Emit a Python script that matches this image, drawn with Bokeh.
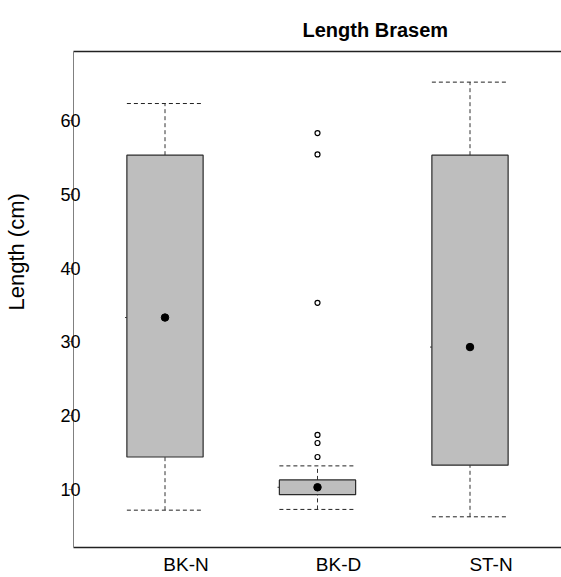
from bokeh.embed import file_html
from bokeh.models import FixedTicker, LinearAxis, Range1d
from bokeh.plotting import figure
from bokeh.resources import INLINE

# Box-and-whisker summary of fish length per group
groups = ["BK-N", "BK-D", "ST-N"]
positions = [1, 2, 3]
whisker_low = [7.2, 7.3, 6.3]
q1 = [14.4, 9.3, 13.3]
median = [33.3, 10.3, 29.3]
q3 = [55.3, 11.3, 55.3]
whisker_high = [62.3, 13.2, 65.2]

# Points beyond the whiskers
outlier_pos = [2, 2, 2, 2, 2, 2]
outlier_values = [58.3, 55.4, 35.3, 17.4, 16.3, 14.4]

y_ticks = [10, 20, 30, 40, 50, 60]

FONT = "Liberation Sans"
BOX_HALF = 0.25
X_LO, X_HI = 0.4, 3.6
Y_LO, Y_HI = 2.14, 69.35
LABEL_SHIFT = 0.138   # group labels sit a little right of their boxes
YTITLE_AT = 42.2      # height at which the y title is centred

p = figure(
    width=561, height=577,
    x_range=Range1d(X_LO, X_HI), y_range=Range1d(Y_LO, Y_HI),
    output_backend="svg", toolbar_location=None,
    x_axis_location=None,
    min_border_left=73, min_border_right=0,
    min_border_top=51, min_border_bottom=30,
    outline_line_color=None, background_fill_color="white",
    border_fill_color="white",
)
p.grid.visible = False
p.extra_x_ranges = {"labels": Range1d(X_LO - LABEL_SHIFT, X_HI - LABEL_SHIFT)}
p.extra_y_ranges = {"ytitle": Range1d(Y_LO - YTITLE_AT, Y_HI - YTITLE_AT)}

# whisker stems
dash = "4 3"
p.segment(x0=positions, y0=q3, x1=positions, y1=whisker_high,
          line_color="#333333", line_width=1, line_dash=dash)
p.segment(x0=positions, y0=whisker_low, x1=positions, y1=q1,
          line_color="#333333", line_width=1, line_dash=dash)
# whisker caps
cap_left = [x - BOX_HALF for x in positions]
cap_right = [x + BOX_HALF for x in positions]
p.segment(x0=cap_left, y0=whisker_high, x1=cap_right, y1=whisker_high,
          line_color="#222222", line_width=1, line_dash=dash)
p.segment(x0=cap_left, y0=whisker_low, x1=cap_right, y1=whisker_low,
          line_color="#222222", line_width=1, line_dash=dash)

# boxes
p.vbar(x=positions, width=2 * BOX_HALF, bottom=q1, top=q3,
       fill_color="#bebebe", line_color="#2a2a2a", line_width=1.2)

# short median mark on the left edge of each box
p.segment(x0=[x - BOX_HALF - 0.012 for x in positions], y0=median,
          x1=[x - BOX_HALF for x in positions], y1=median,
          line_color="#333333", line_width=1)

# median dots
p.scatter(x=positions, y=median, marker="circle", size=7.5,
          fill_color="black", line_color="black")

# outliers
p.scatter(x=outlier_pos, y=outlier_values, marker="circle", size=5,
          fill_color="white", line_color="black", line_width=1.2)

# left axis
yax = p.yaxis[0]
yax.ticker = FixedTicker(ticks=y_ticks)
yax.axis_line_color = "#808080"
yax.major_tick_line_color = "#808080"
yax.major_tick_out = 5
yax.major_tick_in = 0
yax.minor_tick_line_color = None
yax.major_label_standoff = -12
yax.major_label_text_font = FONT
yax.major_label_text_font_size = "18px"
yax.major_label_text_color = "black"

# y title, drawn as the single label of an outer axis so it can sit
# above the frame centre
ytitle = LinearAxis(
    y_range_name="ytitle",
    ticker=FixedTicker(ticks=[0]),
    major_label_overrides={0: "Length (cm)"},
    major_label_orientation="vertical",
    axis_line_color=None, major_tick_line_color=None,
    minor_tick_line_color=None, major_tick_out=0, major_tick_in=0,
    major_label_standoff=28,
    major_label_text_font=FONT, major_label_text_font_size="22px",
    major_label_text_color="black",
)
p.add_layout(ytitle, "left")

# bottom axis with the group names
xax = LinearAxis(
    x_range_name="labels",
    ticker=FixedTicker(ticks=positions),
    major_label_overrides={x: g for x, g in zip(positions, groups)},
    axis_line_color="#222222", axis_line_width=1.5,
    major_tick_line_color=None, minor_tick_line_color=None,
    major_tick_out=0, major_tick_in=0, major_label_standoff=6,
    major_label_text_font=FONT, major_label_text_font_size="19px",
    major_label_text_color="black",
)
p.add_layout(xax, "below")

# top frame line
top = LinearAxis(ticker=FixedTicker(ticks=[]), axis_line_color="#222222",
                 axis_line_width=1.5, major_tick_line_color=None,
                 minor_tick_line_color=None, major_tick_out=0,
                 major_tick_in=0)
p.add_layout(top, "above")

# title
p.title.text = "Length Brasem"
p.title.align = "left"
p.title.offset = 229
p.title.text_font = FONT
p.title.text_font_size = "20px"
p.title.text_font_style = "bold"
p.title.text_color = "black"
p.title.standoff = 21

open("out.html", "w").write(file_html(p, INLINE))
